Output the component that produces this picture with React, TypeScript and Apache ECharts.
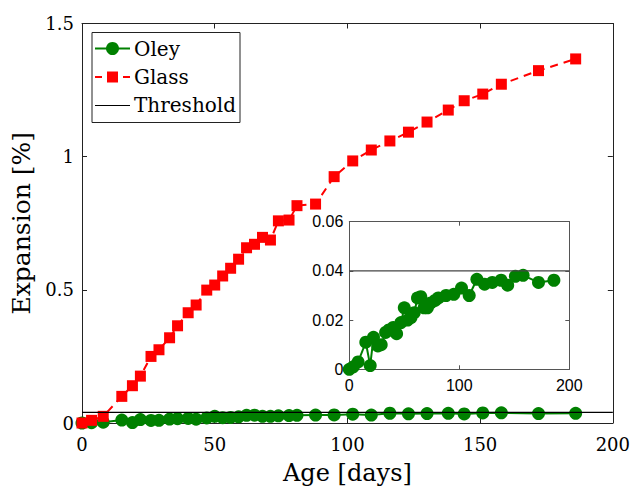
import React, { useEffect, useRef } from "react";
import * as echarts from "echarts";

// Age of each reading, in days
const days = [
  0, 3.6, 8, 15, 19, 22, 26, 29, 33, 36, 40, 43, 47, 50, 53, 56, 59, 62, 65, 68,
  71, 74, 78, 81, 88, 95, 102, 109, 116, 123, 130, 138, 144, 151, 158, 172, 186,
];
// Expansion [%] of the Oley aggregate
const oley = [
  0, 0.001, 0.003, 0.011, 0.0015, 0.013, 0.0095, 0.01, 0.015, 0.016, 0.017, 0.0145,
  0.019, 0.025, 0.02, 0.021, 0.023, 0.029, 0.0295, 0.025, 0.025, 0.027, 0.028, 0.029,
  0.03, 0.0305, 0.033, 0.03, 0.0366, 0.0346, 0.0353, 0.0362, 0.0342, 0.0378, 0.0382,
  0.0353, 0.0362,
];
// Expansion [%] of the glass reference
const glass = [
  0, 0.01, 0.025, 0.1, 0.14, 0.176, 0.25, 0.275, 0.32, 0.365, 0.414, 0.443, 0.499,
  0.518, 0.552, 0.581, 0.615, 0.658, 0.671, 0.697, 0.687, 0.759, 0.762, 0.816, 0.822,
  0.925, 0.984, 1.025, 1.059, 1.092, 1.13, 1.175, 1.21, 1.235, 1.272, 1.323, 1.367,
];
const threshold = 0.04;
const thresholdSpan = [0, 200];

const GREEN = "#008000";
const RED = "#ff0000";
const SERIF = "DejaVu Serif";
const SANS = "Liberation Sans, Arial, sans-serif";

const pairs = (xs: number[], ys: number[]) => xs.map((x, i) => [x, ys[i]]);

const legendText = (text: string, y: number) => ({
  type: "text",
  x: 134,
  y,
  style: {
    text,
    fill: "#000",
    fontFamily: SERIF,
    fontSize: 20,
    verticalAlign: "middle",
  },
});

export default function App() {
  const ref = useRef<HTMLDivElement>(null);

  useEffect(() => {
    if (!ref.current) return;
    const chart = echarts.init(ref.current, undefined, { renderer: "svg" });

    const mainLine = { show: true, onZero: false, lineStyle: { color: "#222", width: 1 } };
    const mainTick = { show: true, inside: true, length: 5, lineStyle: { color: "#222" } };
    const insetLine = { show: true, onZero: false, lineStyle: { color: "#555", width: 1 } };
    const insetTick = { show: true, inside: true, length: 4, lineStyle: { color: "#555" } };

    const thresholdData = thresholdSpan.map((x) => [x, threshold]);

    chart.setOption({
      animation: false,
      backgroundColor: "#fff",
      grid: [
        { left: 82, top: 23.5, right: 20, bottom: 67 },
        {
          left: 349.3,
          top: 221.7,
          width: 220,
          height: 147.6,
          show: true,
          backgroundColor: "#fff",
          borderWidth: 0,
          z: 5,
        },
      ],
      xAxis: [
        {
          gridIndex: 0,
          type: "value",
          min: 0,
          max: 200,
          interval: 50,
          position: "bottom",
          axisLine: mainLine,
          axisTick: mainTick,
          splitLine: { show: false },
          axisLabel: { margin: 12, color: "#000", fontFamily: SERIF, fontSize: 18 },
          name: "Age [days]",
          nameLocation: "middle",
          nameGap: 38,
          nameTextStyle: { color: "#000", fontFamily: SERIF, fontSize: 24 },
        },
        {
          gridIndex: 0,
          type: "value",
          min: 0,
          max: 200,
          interval: 50,
          position: "top",
          axisLine: mainLine,
          axisTick: mainTick,
          splitLine: { show: false },
          axisLabel: { show: false },
        },
        {
          gridIndex: 1,
          type: "value",
          min: 0,
          max: 200,
          interval: 100,
          position: "bottom",
          axisLine: insetLine,
          axisTick: insetTick,
          splitLine: { show: false },
          axisLabel: { margin: 8, color: "#000", fontFamily: SANS, fontSize: 16 },
          z: 6,
        },
        {
          gridIndex: 1,
          type: "value",
          min: 0,
          max: 200,
          interval: 100,
          position: "top",
          axisLine: insetLine,
          axisTick: insetTick,
          splitLine: { show: false },
          axisLabel: { show: false },
          z: 6,
        },
      ],
      yAxis: [
        {
          gridIndex: 0,
          type: "value",
          min: 0,
          max: 1.5,
          interval: 0.5,
          position: "left",
          axisLine: mainLine,
          axisTick: mainTick,
          splitLine: { show: false },
          axisLabel: { margin: 8, color: "#000", fontFamily: SERIF, fontSize: 18 },
          name: "Expansion [%]",
          nameLocation: "middle",
          nameGap: 48,
          nameTextStyle: { color: "#000", fontFamily: SERIF, fontSize: 25 },
        },
        {
          gridIndex: 0,
          type: "value",
          min: 0,
          max: 1.5,
          interval: 0.5,
          position: "right",
          axisLine: mainLine,
          axisTick: mainTick,
          splitLine: { show: false },
          axisLabel: { show: false },
        },
        {
          gridIndex: 1,
          type: "value",
          min: 0,
          max: 0.06,
          interval: 0.02,
          position: "left",
          axisLine: insetLine,
          axisTick: insetTick,
          splitLine: { show: false },
          axisLabel: { margin: 6, color: "#000", fontFamily: SANS, fontSize: 16 },
          z: 6,
        },
        {
          gridIndex: 1,
          type: "value",
          min: 0,
          max: 0.06,
          interval: 0.02,
          position: "right",
          axisLine: insetLine,
          axisTick: insetTick,
          splitLine: { show: false },
          axisLabel: { show: false },
          z: 6,
        },
      ],
      series: [
        {
          name: "Oley",
          type: "line",
          xAxisIndex: 0,
          yAxisIndex: 0,
          data: pairs(days, oley),
          symbol: "circle",
          symbolSize: 13,
          clip: false,
          itemStyle: { color: GREEN },
          lineStyle: { color: GREEN, width: 2 },
          z: 2,
        },
        {
          name: "Glass",
          type: "line",
          xAxisIndex: 0,
          yAxisIndex: 0,
          data: pairs(days, glass),
          symbol: "rect",
          symbolSize: 11,
          clip: false,
          itemStyle: { color: RED },
          lineStyle: { color: RED, width: 2, type: [8, 6] },
          z: 3,
        },
        {
          name: "Threshold",
          type: "line",
          xAxisIndex: 0,
          yAxisIndex: 0,
          data: thresholdData,
          symbol: "none",
          lineStyle: { color: "#000", width: 1.2 },
          z: 4,
        },
        {
          name: "Oley inset",
          type: "line",
          xAxisIndex: 2,
          yAxisIndex: 2,
          data: pairs(days, oley),
          symbol: "circle",
          symbolSize: 13,
          clip: false,
          itemStyle: { color: GREEN },
          lineStyle: { color: GREEN, width: 2 },
          z: 7,
        },
        {
          name: "Threshold inset",
          type: "line",
          xAxisIndex: 2,
          yAxisIndex: 2,
          data: thresholdData,
          symbol: "none",
          lineStyle: { color: "#444", width: 1.2 },
          z: 8,
        },
      ],
      graphic: [
        {
          type: "group",
          z: 100,
          children: [
            {
              type: "rect",
              shape: { x: 92, y: 32.5, width: 148, height: 90 },
              style: { fill: "#fff", stroke: "#222", lineWidth: 1 },
            },
            // Oley entry
            {
              type: "line",
              shape: { x1: 95, y1: 48.5, x2: 130, y2: 48.5 },
              style: { stroke: GREEN, lineWidth: 2 },
            },
            {
              type: "circle",
              shape: { cx: 112.5, cy: 48.5, r: 6.5 },
              style: { fill: GREEN },
            },
            legendText("Oley", 48.5),
            // Glass entry
            {
              type: "line",
              shape: { x1: 95, y1: 77, x2: 102, y2: 77 },
              style: { stroke: RED, lineWidth: 2 },
            },
            {
              type: "line",
              shape: { x1: 123, y1: 77, x2: 130, y2: 77 },
              style: { stroke: RED, lineWidth: 2 },
            },
            {
              type: "rect",
              shape: { x: 107, y: 71.5, width: 11, height: 11 },
              style: { fill: RED },
            },
            legendText("Glass", 77),
            // Threshold entry
            {
              type: "line",
              shape: { x1: 95, y1: 105.5, x2: 130, y2: 105.5 },
              style: { stroke: "#000", lineWidth: 1 },
            },
            legendText("Threshold", 105),
          ],
        },
      ],
    });

    return () => chart.dispose();
  }, []);

  return (
    <div
      ref={ref}
      style={{ position: "fixed", left: 0, top: 0, width: 633, height: 490 }}
    />
  );
}
